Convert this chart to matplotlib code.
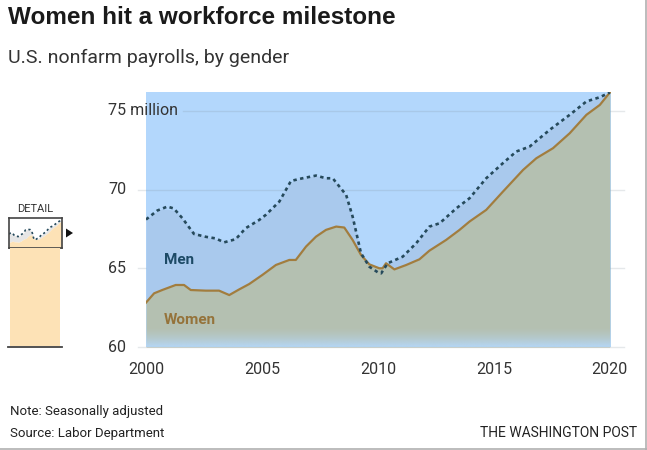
import matplotlib
matplotlib.use("Agg")
import matplotlib.pyplot as plt
import numpy as np
from matplotlib.patches import Rectangle, Polygon
from matplotlib.lines import Line2D

# ---- data (millions) ----
men_years = [2000.0, 2000.49, 2000.92, 2001.2, 2001.57, 2002.07, 2002.58, 2003.0, 2003.37,
             2003.87, 2004.3, 2004.88, 2005.17, 2005.75, 2006.25, 2006.75, 2007.33, 2007.76,
             2008.05, 2008.63, 2008.91, 2009.27, 2009.63, 2009.99, 2010.14, 2010.42, 2011.07,
             2011.65, 2012.22, 2012.66, 2013.38, 2013.95, 2014.67, 2015.39, 2015.97, 2016.54,
             2017.41, 2018.27, 2018.99, 2019.57, 2020.0]
men_vals = [68.1, 68.67, 68.92, 68.8, 68.18, 67.18, 67.0, 66.9, 66.65,
            66.85, 67.55, 68.07, 68.4, 69.24, 70.55, 70.72, 70.89, 70.72,
            70.72, 69.66, 68.28, 65.96, 65.1, 64.75, 64.68, 65.32, 65.74,
            66.59, 67.65, 67.86, 68.81, 69.45, 70.72, 71.68, 72.42, 72.73,
            73.8, 74.75, 75.6, 75.87, 76.17]

women_years = [2000.0, 2000.35, 2000.7, 2001.28, 2001.64, 2001.93, 2002.58, 2003.15, 2003.59,
               2004.02, 2004.45, 2005.02, 2005.6, 2006.18, 2006.46, 2006.9, 2007.33, 2007.76,
               2008.2, 2008.55, 2008.91, 2009.27, 2009.63, 2010.06, 2010.2, 2010.35, 2010.71,
               2011.22, 2011.79, 2012.22, 2012.94, 2013.52, 2013.95, 2014.67, 2015.39, 2016.26,
               2016.83, 2017.55, 2018.27, 2018.99, 2019.57, 2020.0]
women_vals = [62.82, 63.41, 63.62, 63.94, 63.94, 63.62, 63.58, 63.58, 63.3,
              63.66, 64.0, 64.58, 65.21, 65.53, 65.53, 66.38, 67.01, 67.44,
              67.65, 67.59, 66.8, 65.85, 65.25, 65.0, 65.0, 65.32, 64.93,
              65.21, 65.57, 66.12, 66.8, 67.44, 67.97, 68.71, 69.87, 71.25,
              71.99, 72.63, 73.58, 74.75, 75.38, 76.17]

x_ticks = [2000, 2005, 2010, 2015, 2020]
y_ticks = [60, 65, 70, 75]
y_tick_labels = ["60", "65", "70", "75 million"]

title = "Women hit a workforce milestone"
subtitle = "U.S. nonfarm payrolls, by gender"

# ---- style ----
plt.rcParams['font.family'] = ['Roboto', 'DejaVu Sans']
BG_BLUE = "#b3d7fc"
MEN_FILL = "#a9c9ed"
WOMEN_FILL = "#b4c0b1"
MEN_LINE = "#264a5c"
WOMEN_LINE = "#a27d3e"

W, H = 647, 450
fig = plt.figure(figsize=(W / 100, H / 100), dpi=100)

def fx(px):
    return px / W

def fy(py):
    return 1 - py / H

ax_l, ax_r, ax_t, ax_b = 146, 611, 92, 347
ax = fig.add_axes([fx(ax_l), fy(ax_b), fx(ax_r - ax_l), (ax_b - ax_t) / H])
ax.set_facecolor(BG_BLUE)
for s in ax.spines.values():
    s.set_visible(False)
ax.set_xticks([])
ax.set_yticks([])

# grid lines (extend beyond plot area)
for v in y_ticks:
    xmin = (183 - ax_l) / (ax_r - ax_l) if v == 75 else (138 - ax_l) / (ax_r - ax_l)
    ax.axhline(v, xmin=xmin, xmax=(624 - ax_l) / (ax_r - ax_l), color="#7f8c99",
               alpha=0.2, lw=1.0, clip_on=False, zorder=0.5 if v != 60 else 5)

my = np.array(men_years); mv = np.array(men_vals)
wy = np.array(women_years); wv = np.array(women_vals)
men_on_w = np.interp(wy, my, mv)
ax.fill_between(wy, wv, np.maximum(men_on_w, wv), color=MEN_FILL, lw=0, zorder=1)
ax.fill_between(wy, 60, wv, color=WOMEN_FILL, lw=0, zorder=1.5)

# bottom gradient fade
grad = np.zeros((60, 2, 4))
c = matplotlib.colors.to_rgb("#b6d8f9")
grad[..., 0], grad[..., 1], grad[..., 2] = c
grad[..., 3] = (np.linspace(0, 1, 60)[:, None] ** 1.6) * 0.95
ax.imshow(grad, extent=(2000, 2020.05, 60, 61.3), aspect="auto", zorder=2,
          interpolation="bilinear", origin="upper")
ax.set_xlim(2000, 2020.05)
ax.set_ylim(60, 76.2)

ax.plot(wy, wv, color=WOMEN_LINE, lw=1.6, zorder=3, solid_joinstyle="round")
ax.plot(my, mv, color=MEN_LINE, lw=1.9, ls=(0, (1.3, 1.3)), zorder=4)

ax.text(2000.78, 65.53, "Men", color="#1d4a66", fontsize=11, fontweight="bold",
        va="center", ha="left", zorder=6)
ax.text(2000.78, 61.72, "Women", color="#95733a", fontsize=11, fontweight="bold",
        va="center", ha="left", zorder=6)

# y labels
trans = matplotlib.transforms.blended_transform_factory(fig.transFigure, ax.transData)
for v, lab in zip(y_ticks, y_tick_labels):
    ax.text(fx(108), v, lab, transform=trans, fontsize=11.5, color="#333333",
            ha="left", va="center", zorder=6)
# x labels
transx = matplotlib.transforms.blended_transform_factory(ax.transData, fig.transFigure)
for v in x_ticks:
    ax.text(v, fy(370), str(v), transform=transx, fontsize=11.5, color="#333333",
            ha="center", va="center")

# titles
fig.text(fx(8), fy(18), title, fontsize=17.5, fontweight="bold", color="#1a1a1a",
         ha="left", va="center", family=["Liberation Sans", "DejaVu Sans"])
fig.text(fx(8), fy(58), subtitle, fontsize=14, color="#333333", ha="left", va="center")

# footer
fig.text(fx(10), fy(412), "Note: Seasonally adjusted", fontsize=9.5, color="#222222",
         ha="left", va="center")
fig.text(fx(10), fy(433), "Source: Labor Department", fontsize=9.5, color="#222222",
         ha="left", va="center")
fig.text(fx(637), fy(433), "THE WASHINGTON POST", fontsize=10, color="#222222",
         ha="right", va="center")

# DETAIL inset
fig.patches.append(Rectangle((fx(10), fy(346)), fx(50), (346 - 248) / H,
                             transform=fig.transFigure, facecolor="#fde2b6", edgecolor="none"))
fig.lines.append(Line2D([fx(8), fx(62)], [fy(347), fy(347)], transform=fig.transFigure,
                        color="#444444", lw=1.3))
iax = fig.add_axes([fx(9), fy(248), fx(53), (248 - 218) / H])
iax.set_facecolor("white")
iax.set_xlim(2000, 2020.05)
iax.set_ylim(60, 77.5)
iax.fill_between(wy, wv, np.maximum(men_on_w, wv), color="#e6e6e6", lw=0)
iax.fill_between(wy, 55, wv, color="#fde2b6", lw=0)
iax.plot(my, mv, color=MEN_LINE, lw=1.2, ls=(0, (1.3, 1.6)))
iax.set_xticks([]); iax.set_yticks([])
for s in iax.spines.values():
    s.set_color("#444444"); s.set_linewidth(1.2)
fig.text(fx(35), fy(209), "DETAIL", fontsize=8, color="#333333", ha="center", va="center")
fig.patches.append(Polygon([[fx(66), fy(228.5)], [fx(66), fy(237.5)], [fx(73), fy(233)]],
                           closed=True, transform=fig.transFigure, facecolor="#111111",
                           edgecolor="none"))

# frame edges on right and bottom
fig.lines.append(Line2D([fx(645.5), fx(645.5)], [0, 1], transform=fig.transFigure,
                        color="#b0b0b0", lw=1.2))
fig.lines.append(Line2D([0, 1], [fy(448.5), fy(448.5)], transform=fig.transFigure,
                        color="#b0b0b0", lw=1.2))

fig.savefig("out.png", dpi=100)
